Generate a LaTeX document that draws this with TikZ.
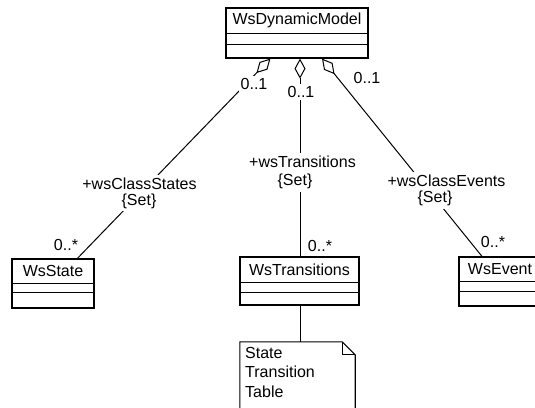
\documentclass[tikz,border=0pt]{standalone}
\usepackage{fontspec}
\setmainfont{Liberation Sans}
\usetikzlibrary{arrows.meta}

\begin{document}
\begin{tikzpicture}[x=1pt,y=-1pt,
  every node/.style={font=\fontsize{16}{19.5}\selectfont, inner sep=0pt},
  classrect/.style={draw, line width=1.2pt, inner sep=0pt},
  compline/.style={line width=1pt},
  assoc/.style={line width=1pt},
  aggr/.style={assoc, {Diamond[open, length=20pt, width=11pt]}-},
  role/.style={fill=white, inner sep=3pt},
  mult/.style={fill=white, inner sep=2pt}]

\useasboundingbox (0,0) rectangle (535,407);

% class WsDynamicModel
\node[classrect, minimum width=142pt, minimum height=50pt] (dyn) at (297,33) {};
\draw[compline] ([yshift=-26pt]dyn.north west) -- ([yshift=-26pt]dyn.north east);
\draw[compline] ([yshift=-37pt]dyn.north west) -- ([yshift=-37pt]dyn.north east);
\node (dynname) at ([yshift=-13pt]dyn.north) {WsDynamicModel};

% class WsState
\node[classrect, minimum width=82pt, minimum height=49pt] (state) at (53,283.5) {};
\draw[compline] ([yshift=-25pt]state.north west) -- ([yshift=-25pt]state.north east);
\draw[compline] ([yshift=-34pt]state.north west) -- ([yshift=-34pt]state.north east);
\node (statename) at ([yshift=-12.5pt]state.north) {WsState};

% class WsTransitions
\node[classrect, minimum width=119pt, minimum height=48pt] (trans) at (299.5,281) {};
\draw[compline] ([yshift=-26pt]trans.north west) -- ([yshift=-26pt]trans.north east);
\draw[compline] ([yshift=-36pt]trans.north west) -- ([yshift=-36pt]trans.north east);
\node (transname) at ([yshift=-13pt]trans.north) {WsTransitions};

% class WsEvent
\node[classrect, minimum width=82pt, minimum height=49pt] (event) at (500,281.5) {};
\draw[compline] ([yshift=-25pt]event.north west) -- ([yshift=-25pt]event.north east);
\draw[compline] ([yshift=-35pt]event.north west) -- ([yshift=-35pt]event.north east);
\node (eventname) at ([yshift=-12.5pt]event.north) {WsEvent};

% note attached to WsTransitions
\node[anchor=north west, align=left] (notetext) at (245,347) {State\\Transition\\Table};
\node[minimum width=115pt, minimum height=78pt] (note) at (297.5,381) {};
\draw[line width=1.1pt] (note.north west) -- ([xshift=-13pt]note.north east)
  -- ([yshift=-13pt]note.north east) -- (note.south east) -- (note.south west) -- cycle;
\draw[line width=0.9pt] ([xshift=-13pt]note.north east) -- ([xshift=-13pt,yshift=-13pt]note.north east)
  -- ([yshift=-13pt]note.north east);
\draw[assoc] ([xshift=0.5pt]trans.south) -- ([xshift=2.5pt]note.north);

% aggregations
\draw[aggr] ([xshift=45pt]dyn.south west) -- ([xshift=66pt]state.north west);
\draw[aggr] ([xshift=3pt]dyn.south) -- ([xshift=0.5pt]trans.north);
\draw[aggr] ([xshift=25pt]dyn.south) -- ([xshift=-18pt]event.north);

% role names
\node[role] (rs1) at (139.5,184) {+wsClassStates};
\node[role] (rs2) at (139,201) {\{Set\}};
\node[role] (rt1) at (302.5,162) {+wsTransitions};
\node[role] (rt2) at (295,181.5) {\{Set\}};
\node[role] (re1) at (446.5,181) {+wsClassEvents};
\node[role] (re2) at (435,198.5) {\{Set\}};

% multiplicities
\node[mult] (m1) at (254,84) {0..1};
\node[mult] (m2) at (301,92) {0..1};
\node[mult] (m3) at (367,78) {0..1};
\node[mult] (m4) at (66,245) {0..*};
\node[mult] (m5) at (320,246) {0..*};
\node[mult] (m6) at (493,242) {0..*};
\end{tikzpicture}
\end{document}
